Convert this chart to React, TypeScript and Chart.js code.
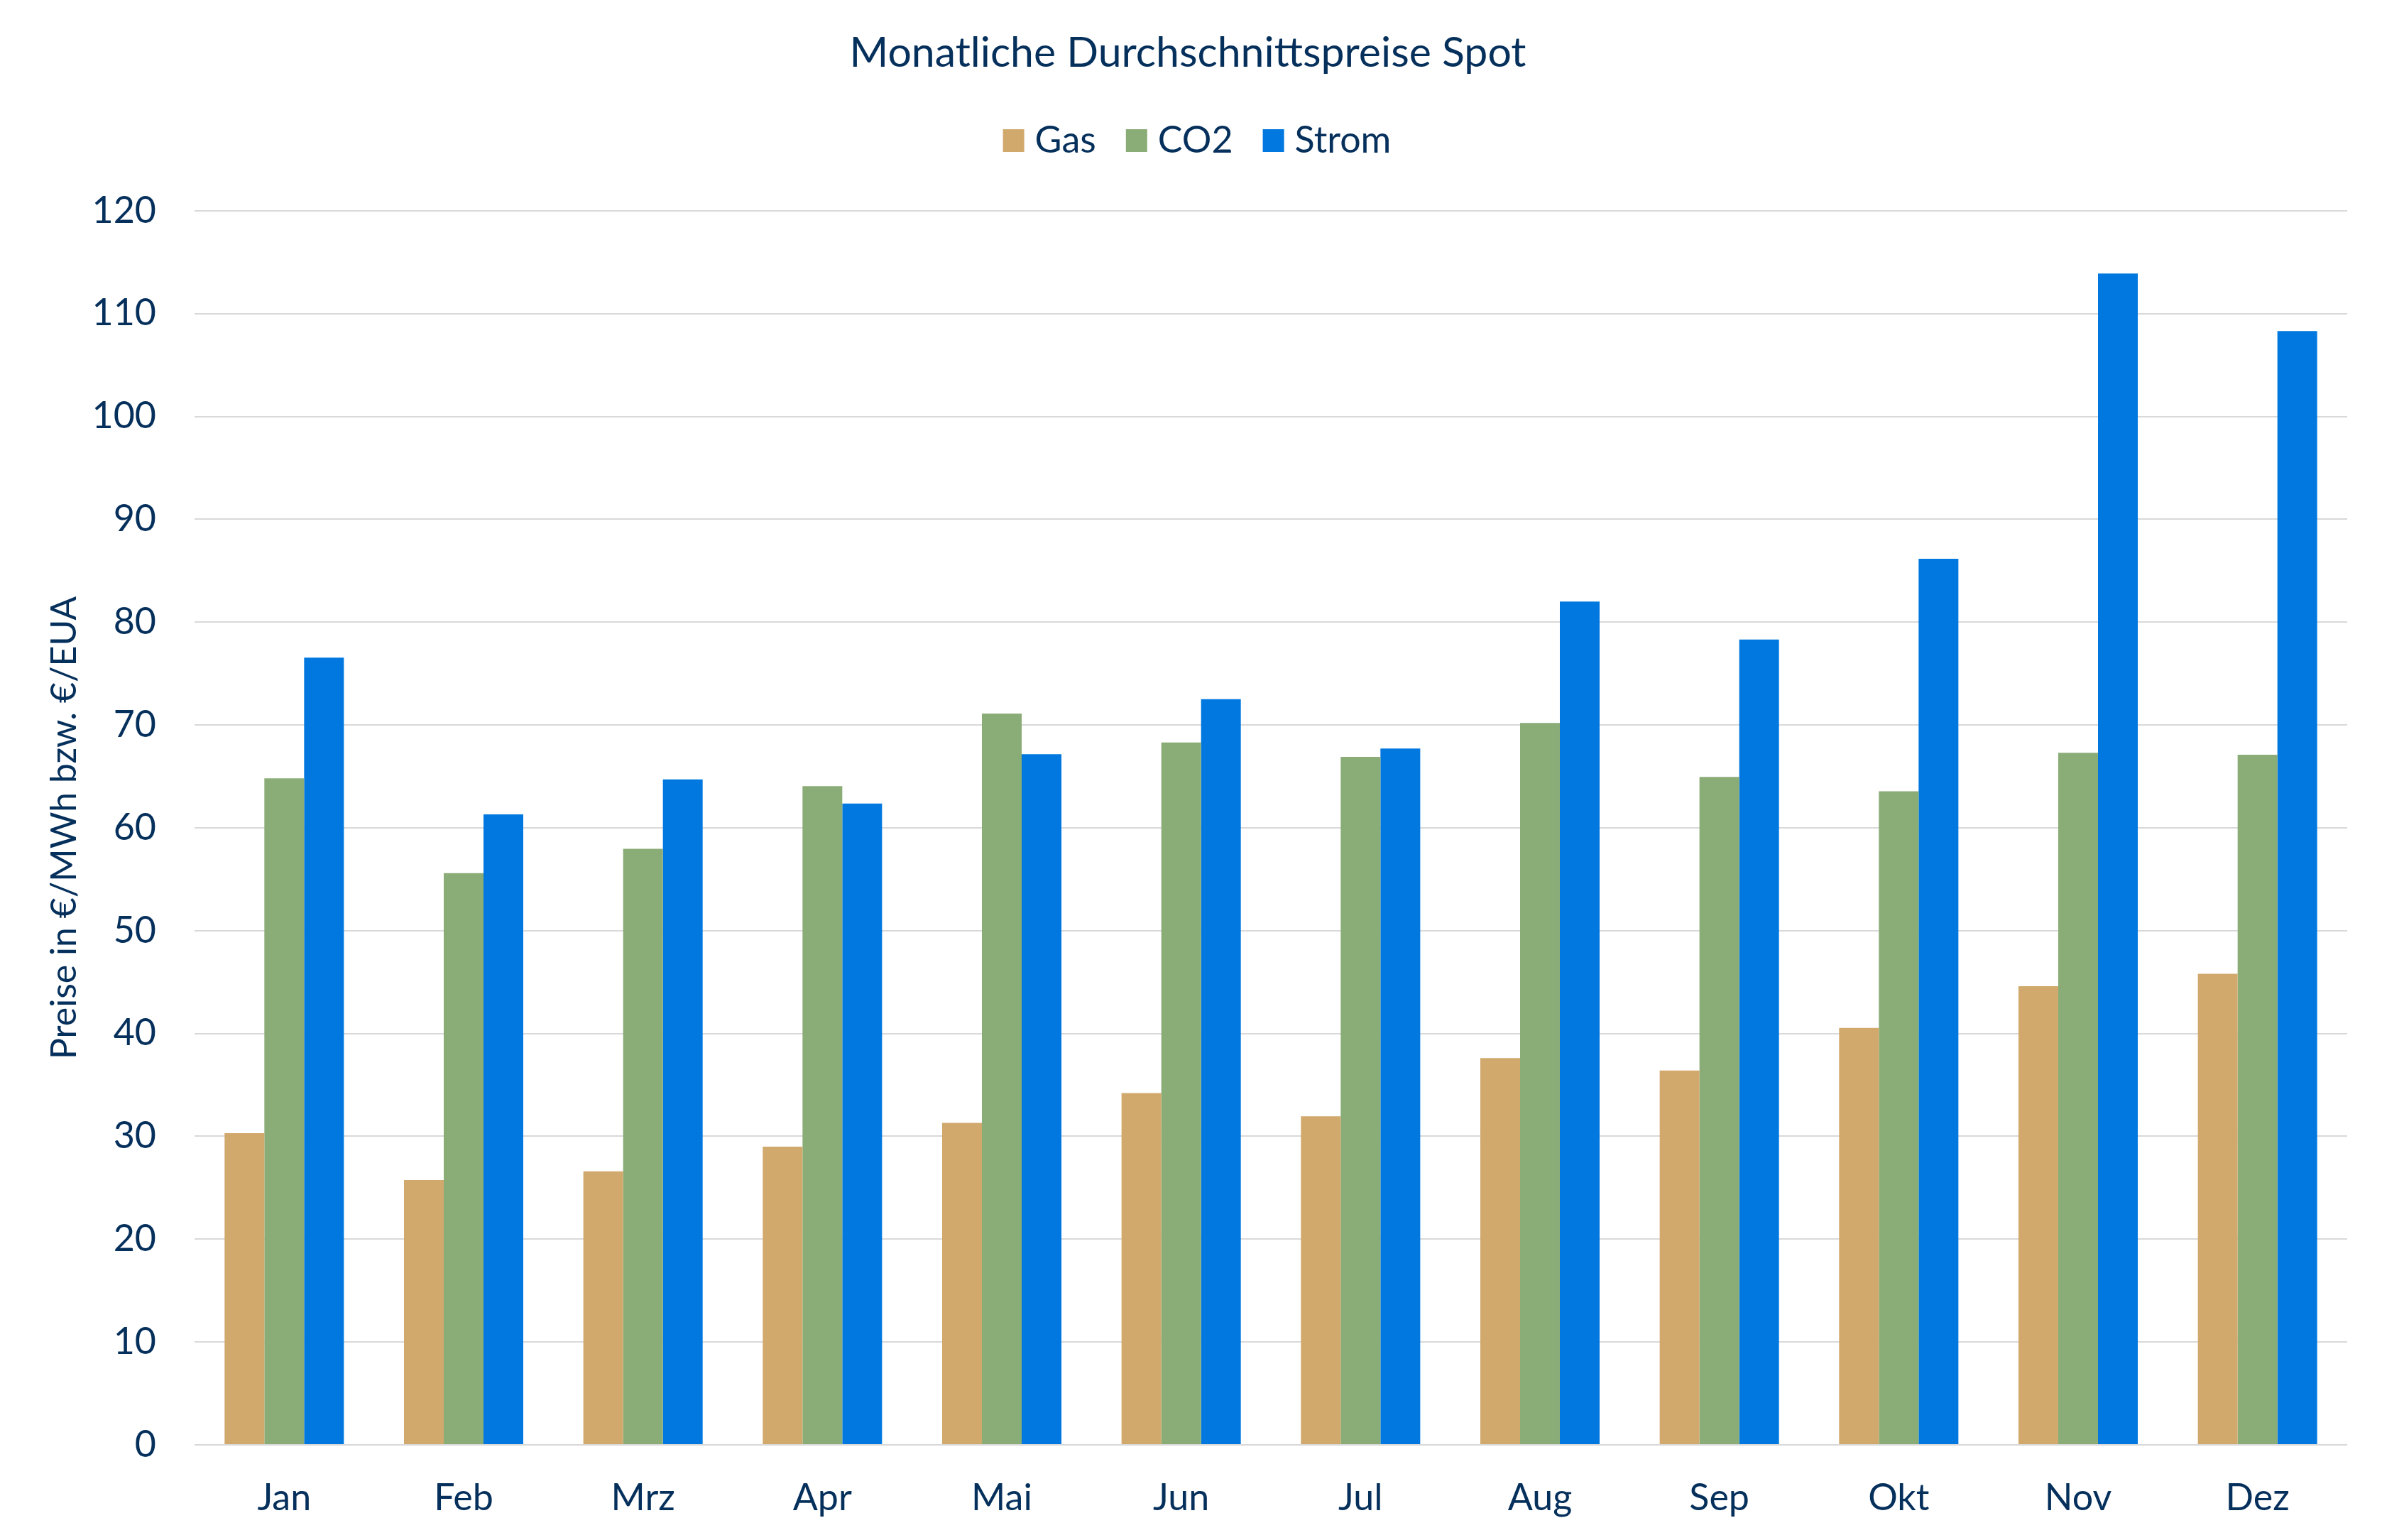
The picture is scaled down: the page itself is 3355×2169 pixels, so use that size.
import React, { useEffect, useRef } from 'react';
import { Chart, registerables } from 'chart.js';

Chart.register(...registerables);

const months = ['Jan', 'Feb', 'Mrz', 'Apr', 'Mai', 'Jun', 'Jul', 'Aug', 'Sep', 'Okt', 'Nov', 'Dez'];
const gasValues = [30.3, 25.75, 26.6, 29.0, 31.3, 34.2, 31.95, 37.6, 36.4, 40.55, 44.6, 45.8];
const co2Values = [64.8, 55.6, 57.95, 64.05, 71.1, 68.3, 66.9, 70.2, 64.95, 63.55, 67.3, 67.1];
const stromValues = [76.55, 61.3, 64.7, 62.35, 67.15, 72.5, 67.7, 82.0, 78.3, 86.15, 113.9, 108.3];
const seriesNames = ['Gas', 'CO2', 'Strom'];
const titleText = 'Monatliche Durchschnittspreise Spot';
const yAxisTitle = 'Preise in €/MWh bzw. €/EUA';
const yMin = 0;
const yMax = 120;
const yStep = 10;

const TEXT = '#06305C';
const FONT = 'Lato';

export default function App() {
  const ref = useRef<HTMLCanvasElement>(null);

  useEffect(() => {
    if (!ref.current) return;
    const customLegend = {
      id: 'customLegend',
      afterDraw(chart: any) {
        const ctx = chart.ctx as CanvasRenderingContext2D;
        ctx.save();
        ctx.font = `normal 52px ${FONT}`;
        const box = 30;
        const gap = 15;
        const spacing = 42;
        const items = chart.data.datasets.map((ds: any) => ({
          text: String(ds.label),
          color: ds.backgroundColor,
          w: ctx.measureText(String(ds.label)).width,
        }));
        const total =
          items.reduce((a: number, it: any) => a + box + gap + it.w, 0) + spacing * (items.length - 1);
        let x = 1686 - total / 2;
        const cy = 198;
        items.forEach((it: any) => {
          ctx.fillStyle = it.color;
          ctx.fillRect(x, cy - 16, box, 32);
          x += box + gap;
          ctx.fillStyle = TEXT;
          ctx.textBaseline = 'middle';
          ctx.textAlign = 'left';
          ctx.fillText(it.text, x, cy);
          x += it.w + spacing;
        });
        ctx.restore();
      },
    };
    const chart = new Chart(ref.current, {
      type: 'bar',
      data: {
        labels: months,
        datasets: [
          { label: seriesNames[0], data: gasValues, backgroundColor: '#D1A96C' },
          { label: seriesNames[1], data: co2Values, backgroundColor: '#8AAC76' },
          { label: seriesNames[2], data: stromValues, backgroundColor: '#0078DF' },
        ],
      },
      plugins: [customLegend],
      options: {
        responsive: false,
        devicePixelRatio: 1,
        animation: false,
        layout: { padding: { left: 40, right: 49, top: 0, bottom: 0 } },
        datasets: {
          bar: { categoryPercentage: 0.665, barPercentage: 1.0, borderWidth: 0 },
        },
        plugins: {
          title: {
            display: true,
            text: titleText,
            color: TEXT,
            font: { family: FONT, size: 59, weight: 'normal', lineHeight: 1.2 },
            padding: { top: 40, bottom: 186 },
          },
          legend: { display: false },
          tooltip: { enabled: false },
        },
        scales: {
          x: {
            grid: { display: false, drawTicks: false },
            border: { display: false },
            ticks: { color: TEXT, font: { family: FONT, size: 52 }, padding: 44 },
            afterFit: (s: any) => {
              s.height = 134;
            },
          },
          y: {
            min: yMin,
            max: yMax,
            ticks: { stepSize: yStep, color: TEXT, font: { family: FONT, size: 52 }, padding: 54 },
            grid: { color: '#D9D9D9', lineWidth: 2, drawTicks: false },
            border: { display: false },
            title: {
              display: true,
              text: yAxisTitle,
              color: TEXT,
              font: { family: FONT, size: 50 },
              padding: { top: 21, bottom: 0 },
            },
            afterFit: (s: any) => {
              s.width = 234;
            },
          },
        },
      },
    } as any);
    return () => chart.destroy();
  }, []);

  return (
    <div style={{ position: 'fixed', left: 0, top: 0, width: 3355, height: 2169, background: '#ffffff' }}>
      <canvas ref={ref} width={3355} height={2169} style={{ display: 'block', width: 3355, height: 2169 }} />
    </div>
  );
}
